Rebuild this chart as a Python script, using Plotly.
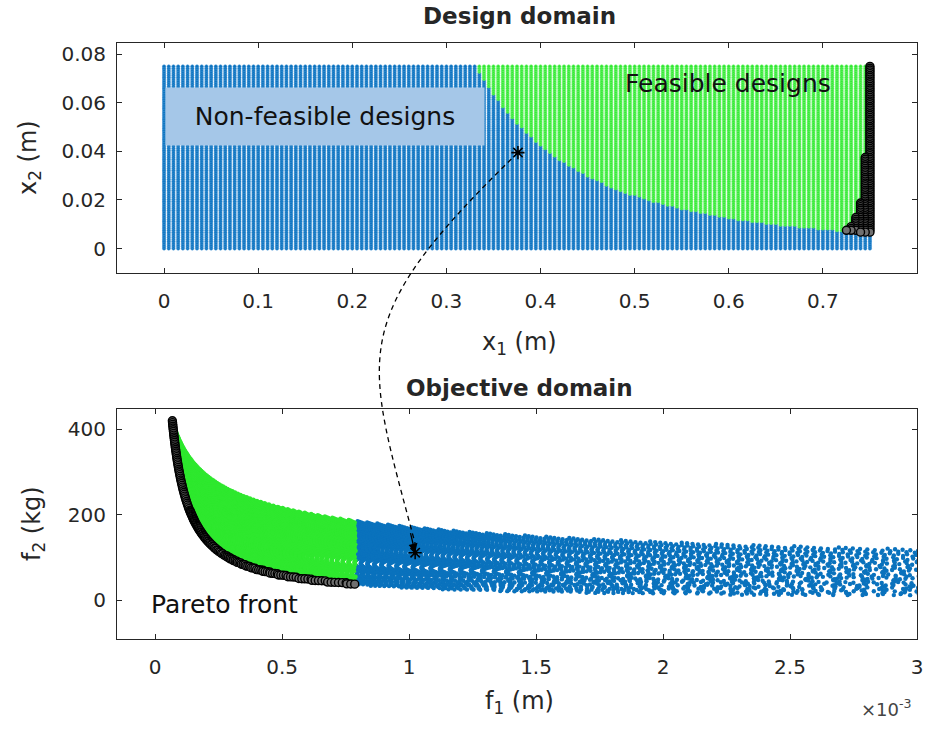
import numpy as np
import plotly.graph_objects as go

# ---------------------------------------------------------------------------
# Design grid of the cantilever study: x1 = section height, x2 = section width
# ---------------------------------------------------------------------------
x1_samples = np.round(np.arange(0.0, 0.75 + 1e-9, 0.005), 5)
x2_samples = np.round(np.arange(0.0, 0.075 + 1e-9, 0.00075), 6)

# Beam model: tip deflection = coef / (x1^3 * x2), mass = coef * x1 * x2
tip_deflection_coef = 2.15e-6   # m^5
mass_coef = 7467.0              # kg/m^2
deflection_limit = 0.79e-3      # m, feasibility threshold on f1

# Design singled out in both domains
marked_design = [0.376, 0.0395]

# Tick values / labels
x1_ticks = [0, 0.1, 0.2, 0.3, 0.4, 0.5, 0.6, 0.7, 0.8]
x1_ticktext = ["0", "0.1", "0.2", "0.3", "0.4", "0.5", "0.6", "0.7", "0.8"]
x2_ticks = [0, 0.02, 0.04, 0.06, 0.08]
x2_ticktext = ["0", "0.02", "0.04", "0.06", "0.08"]
f1_ticks = [0, 0.5, 1, 1.5, 2, 2.5, 3]          # in units of 1e-3 m
f1_ticktext = ["0", "0.5", "1", "1.5", "2", "2.5", "3"]
f2_ticks = [0, 200, 400]
f2_ticktext = ["0", "200", "400"]


def objectives(x1, x2):
    x1 = np.asarray(x1, dtype=float)
    x2 = np.asarray(x2, dtype=float)
    with np.errstate(divide="ignore", invalid="ignore"):
        f1 = tip_deflection_coef / (x1 ** 3 * x2)
    f1 = np.where(np.isfinite(f1), f1, np.inf)
    f2 = mass_coef * x1 * x2
    return f1, f2


X1, X2 = np.meshgrid(x1_samples, x2_samples, indexing="ij")
X1 = X1.ravel()
X2 = X2.ravel()
F1, F2 = objectives(X1, X2)
feasible = F1 <= deflection_limit

# Non-dominated feasible designs (minimise both f1 and f2)
cand = np.where(feasible)[0]
order = cand[np.lexsort((F2[cand], F1[cand]))]
pareto = []
best_f2 = np.inf
for i in order:
    if F2[i] < best_f2:
        pareto.append(i)
        best_f2 = F2[i]
pareto = np.array(pareto)

star_f1, star_f2 = objectives(marked_design[0], marked_design[1])
star_f1 = float(star_f1)
star_f2 = float(star_f2)

# ---------------------------------------------------------------------------
W, H = 932, 730
BLUE = "#0a72bd"
BLUE_HALO = "rgba(70,150,215,0.55)"
GREEN = "#2fe82f"
GREEN_HALO = "rgba(120,245,120,0.6)"
PARETO_FACE = "#707070"
INK = "#262626"
FONT = "DejaVu Sans"

top_xdom_px = (117.0, 917.0)
top_ydom_px = (43.3, 273.3)
bot_ydom_px = (409.3, 639.3)
top_xrange = [-0.05, 0.8]
top_yrange = [-0.0102, 0.0845]
bot_xrange = [-0.15, 3.0]
bot_yrange = [-92.0, 447.0]


def px_x(p):
    return p / W


def px_y(p):
    return 1.0 - p / H


def data_to_px(v, rng, dom_px, vertical=False):
    frac = (v - rng[0]) / (rng[1] - rng[0])
    if vertical:
        return dom_px[1] - frac * (dom_px[1] - dom_px[0])
    return dom_px[0] + frac * (dom_px[1] - dom_px[0])


fig = go.Figure()

# ---- design domain ----
inf_mask = ~feasible
fig.add_trace(go.Scatter(
    x=X1[inf_mask], y=X2[inf_mask], mode="markers",
    marker=dict(size=3.3, color=BLUE, line=dict(width=1.0, color=BLUE_HALO)),
    xaxis="x", yaxis="y", hoverinfo="skip"))
fig.add_trace(go.Scatter(
    x=X1[feasible], y=X2[feasible], mode="markers",
    marker=dict(size=3.3, color=GREEN, line=dict(width=1.0, color=GREEN_HALO)),
    xaxis="x", yaxis="y", hoverinfo="skip"))
fig.add_trace(go.Scatter(
    x=X1[pareto], y=X2[pareto], mode="markers",
    marker=dict(size=8, color=PARETO_FACE, symbol="circle",
                line=dict(width=1.4, color="black")),
    xaxis="x", yaxis="y", hoverinfo="skip"))
fig.add_trace(go.Scatter(
    x=[marked_design[0]], y=[marked_design[1]], mode="markers",
    marker=dict(size=11, symbol="asterisk-open", color="black",
                line=dict(width=1.6, color="black")),
    xaxis="x", yaxis="y", hoverinfo="skip"))

# ---- objective domain (f1 shown in 1e-3 m) ----
vis = np.isfinite(F1) & (F1 * 1e3 <= 3.3)
obj_inf = vis & ~feasible
fig.add_trace(go.Scatter(
    x=F1[obj_inf] * 1e3, y=F2[obj_inf], mode="markers",
    marker=dict(size=4.4, color=BLUE, line=dict(width=0)),
    xaxis="x2", yaxis="y2", hoverinfo="skip"))
fig.add_trace(go.Scatter(
    x=F1[feasible] * 1e3, y=F2[feasible], mode="markers",
    marker=dict(size=4.4, color=GREEN, line=dict(width=0)),
    xaxis="x2", yaxis="y2", hoverinfo="skip"))
fig.add_trace(go.Scatter(
    x=F1[pareto] * 1e3, y=F2[pareto], mode="markers",
    marker=dict(size=8, color=PARETO_FACE, symbol="circle",
                line=dict(width=1.4, color="black")),
    xaxis="x2", yaxis="y2", hoverinfo="skip"))
fig.add_trace(go.Scatter(
    x=[star_f1 * 1e3], y=[star_f2], mode="markers",
    marker=dict(size=11, symbol="asterisk-open", color="black",
                line=dict(width=1.6, color="black")),
    xaxis="x2", yaxis="y2", hoverinfo="skip"))

axis_common = dict(
    showline=True, linecolor=INK, linewidth=1, mirror="ticks",
    ticks="inside", ticklen=5, tickwidth=1, tickcolor=INK,
    showgrid=False, zeroline=False,
    tickfont=dict(family=FONT, size=20, color=INK),
    automargin=False,
)

fig.update_layout(
    width=W, height=H,
    margin=dict(l=0, r=0, t=0, b=0),
    paper_bgcolor="white", plot_bgcolor="white",
    showlegend=False,
    xaxis=dict(domain=[px_x(top_xdom_px[0]), px_x(top_xdom_px[1])],
               range=top_xrange, anchor="y",
               tickvals=x1_ticks, ticktext=x1_ticktext,
               ticklabelstandoff=10, **axis_common),
    yaxis=dict(domain=[px_y(top_ydom_px[1]), px_y(top_ydom_px[0])],
               range=top_yrange, anchor="x",
               tickvals=x2_ticks, ticktext=x2_ticktext,
               ticklabelstandoff=6, **axis_common),
    xaxis2=dict(domain=[px_x(top_xdom_px[0]), px_x(top_xdom_px[1])],
                range=bot_xrange, anchor="y2",
                tickvals=f1_ticks, ticktext=f1_ticktext,
                ticklabelstandoff=10, **axis_common),
    yaxis2=dict(domain=[px_y(bot_ydom_px[1]), px_y(bot_ydom_px[0])],
                range=bot_yrange, anchor="x2",
                tickvals=f2_ticks, ticktext=f2_ticktext,
                ticklabelstandoff=6, **axis_common),
)

ann = []


def text(xp, yp, s, size, angle=0, **kw):
    d = dict(x=px_x(xp), y=px_y(yp), xref="paper", yref="paper",
             text=s, showarrow=False, textangle=angle,
             xanchor="center", yanchor="middle",
             font=dict(family=FONT, size=size, color=kw.pop("color", INK)))
    d.update(kw)
    ann.append(d)


text(519, 16, "<b>Design domain</b>", 23)
text(519, 388, "<b>Objective domain</b>", 23)
text(519, 343, "x<sub>1</sub> (m)", 24)
text(519, 702, "f<sub>1</sub> (m)", 24)
text(29, 158, "x<sub>2</sub> (m)", 24, angle=-90)
text(33, 524, "f<sub>2</sub> (kg)", 24, angle=-90)
text(886, 708, "\u00d710<sup>-3</sup>", 18, color="#444444")
text(325, 116, "Non-feasible designs", 25, color="#111111",
     bgcolor="#a5c7e8", width=316, height=55)
text(728, 84, "Feasible designs", 25, color="#111111")
text(224, 604, "Pareto front", 25, color="#111111")

# dashed link from the marked design to its image in objective space
s_x = data_to_px(marked_design[0], top_xrange, top_xdom_px)
s_y = data_to_px(marked_design[1], top_yrange, top_ydom_px, vertical=True)
e_x = data_to_px(star_f1 * 1e3, bot_xrange, top_xdom_px)
e_y = data_to_px(star_f2, bot_yrange, bot_ydom_px, vertical=True) - 9
c1 = (s_x - 175, s_y + 170)
c2 = (e_x - 50, e_y - 190)
path = "M {:.5f},{:.5f} C {:.5f},{:.5f} {:.5f},{:.5f} {:.5f},{:.5f}".format(
    px_x(s_x), px_y(s_y), px_x(c1[0]), px_y(c1[1]),
    px_x(c2[0]), px_y(c2[1]), px_x(e_x), px_y(e_y))
shapes = [dict(type="path", path=path, xref="paper", yref="paper",
               line=dict(color="black", width=1.3, dash="5px,4px"))]

ann.append(dict(x=star_f1 * 1e3, y=star_f2, xref="x2", yref="y2",
                ax=-5, ay=-21, text="", showarrow=True,
                arrowhead=2, arrowsize=1.4, arrowwidth=1.3,
                arrowcolor="black", standoff=0))

fig.update_layout(annotations=ann, shapes=shapes)
fig.write_html("out.html")
